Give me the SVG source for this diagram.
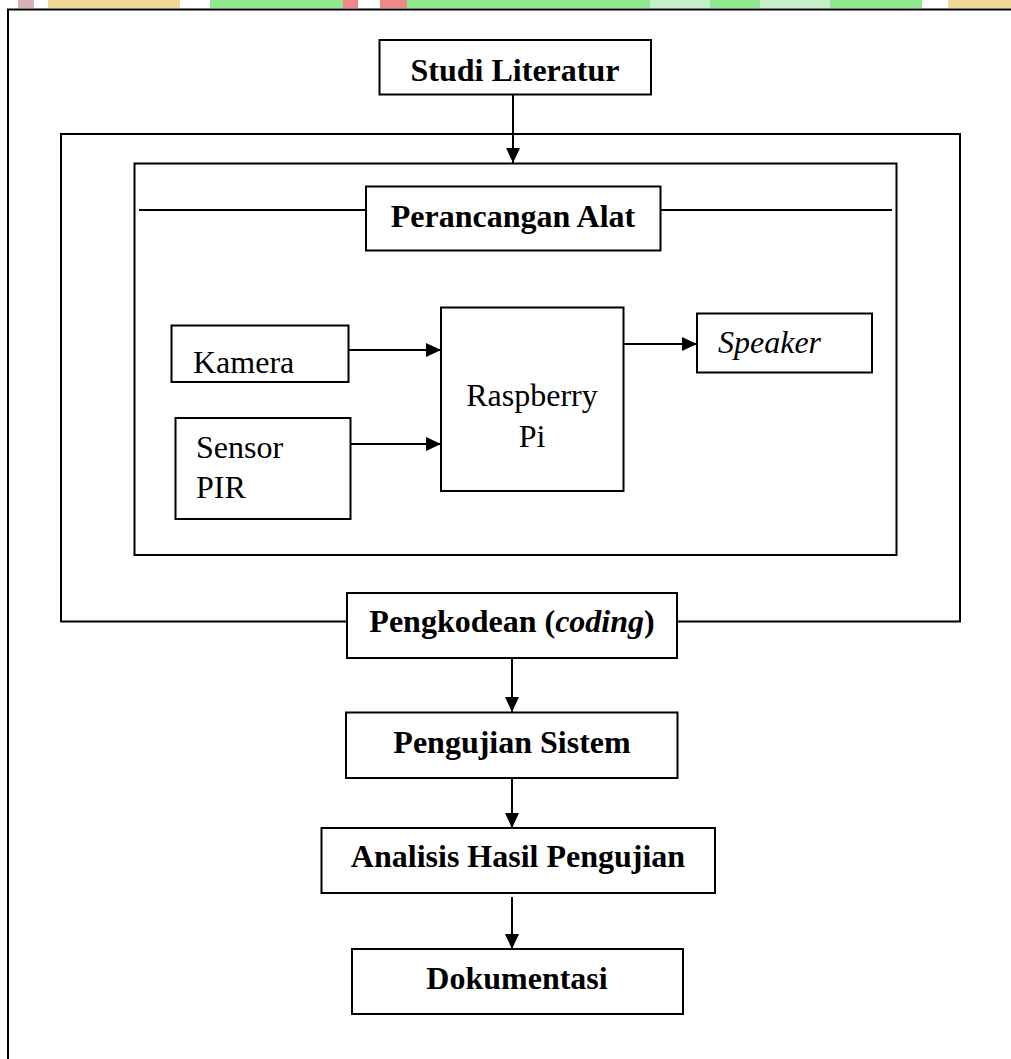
<svg xmlns="http://www.w3.org/2000/svg" width="1011" height="1059" viewBox="0 0 1011 1059">
<defs>
<style>
.box{fill:#fff;stroke:#000;stroke-width:2}
.frame{fill:none;stroke:#000;stroke-width:2}
.con{fill:none;stroke:#000;stroke-width:2}
.b{font-family:"Liberation Serif","Times New Roman",serif;font-weight:bold;font-size:32px;fill:#000;text-anchor:middle}
.r{font-family:"Liberation Serif","Times New Roman",serif;font-size:32px;fill:#000}
</style>
<marker id="ah" markerUnits="userSpaceOnUse" markerWidth="15" markerHeight="14" refX="15" refY="7" orient="auto">
<path d="M0,0 L15,7 L0,14 z" fill="#000"/>
</marker>
</defs>
<rect x="0" y="0" width="1011" height="1059" fill="#fff"/>
<g id="strip">
<rect x="0" y="0" width="1011" height="8" fill="#fff"/>
<rect x="18" y="0" width="16" height="8" fill="#d8b0b8"/>
<rect x="48" y="0" width="132" height="8" fill="#f0d898"/>
<rect x="210" y="0" width="133" height="8" fill="#90e890"/>
<rect x="343" y="0" width="15" height="8" fill="#f08888"/>
<rect x="380" y="0" width="27" height="8" fill="#f08888"/>
<rect x="407" y="0" width="515" height="8" fill="#90e890"/>
<rect x="650" y="0" width="60" height="8" fill="#c8f0c8"/>
<rect x="760" y="0" width="70" height="8" fill="#c8f0c8"/>
<rect x="948" y="0" width="63" height="8" fill="#f0d898"/>
</g>
<g id="frames">
<path class="frame" d="M8,1059 V9.5 H1011"/>
<rect class="frame" x="61" y="134" width="899" height="487.5"/>
<rect class="frame" x="134.5" y="163.5" width="762" height="391.5"/>
<line class="frame" x1="139" y1="210" x2="892" y2="210" stroke-width="1.5"/>
</g>
<g id="connectors">
<line class="con" x1="513" y1="94" x2="513" y2="163" marker-end="url(#ah)"/>
<line class="con" x1="348" y1="350" x2="441" y2="350" marker-end="url(#ah)"/>
<line class="con" x1="351" y1="444" x2="441" y2="444" marker-end="url(#ah)"/>
<line class="con" x1="623" y1="344" x2="697" y2="344" marker-end="url(#ah)"/>
<line class="con" x1="512" y1="658" x2="512" y2="712" marker-end="url(#ah)"/>
<line class="con" x1="512" y1="778" x2="512" y2="828" marker-end="url(#ah)"/>
<line class="con" x1="512" y1="897" x2="512" y2="949" marker-end="url(#ah)"/>
</g>
<g id="studi">
<rect class="box" x="379.5" y="40" width="271.5" height="54.5"/>
<text class="b" x="515" y="81">Studi Literatur</text>
</g>
<g id="perancangan">
<rect class="box" x="366" y="186.5" width="294.5" height="64"/>
<text class="b" x="513" y="227">Perancangan Alat</text>
</g>
<g id="kamera">
<rect class="box" x="171.5" y="325.5" width="177" height="56.5"/>
<text class="r" x="193" y="373">Kamera</text>
</g>
<g id="sensor">
<rect class="box" x="175.5" y="418" width="175" height="101"/>
<text class="r" x="196" y="458">Sensor</text>
<text class="r" x="196" y="498">PIR</text>
</g>
<g id="raspberry">
<rect class="box" x="441" y="307.5" width="182.5" height="183.5"/>
<text class="r" x="532" y="406" text-anchor="middle">Raspberry</text>
<text class="r" x="532" y="447" text-anchor="middle">Pi</text>
</g>
<g id="speaker">
<rect class="box" x="697" y="313.5" width="175" height="59"/>
<text class="r" x="718" y="353" font-style="italic">Speaker</text>
</g>
<g id="pengkodean">
<rect class="box" x="347" y="593" width="330" height="65"/>
<text class="b" x="512" y="632">Pengkodean (<tspan font-style="italic">coding</tspan>)</text>
</g>
<g id="pengujian">
<rect class="box" x="346" y="712.5" width="331.5" height="65.5"/>
<text class="b" x="512" y="753">Pengujian Sistem</text>
</g>
<g id="analisis">
<rect class="box" x="321.5" y="828" width="393.5" height="65"/>
<text class="b" x="518" y="867">Analisis Hasil Pengujian</text>
</g>
<g id="dokumentasi">
<rect class="box" x="352" y="949" width="331" height="65"/>
<text class="b" x="517" y="989">Dokumentasi</text>
</g>
</svg>
